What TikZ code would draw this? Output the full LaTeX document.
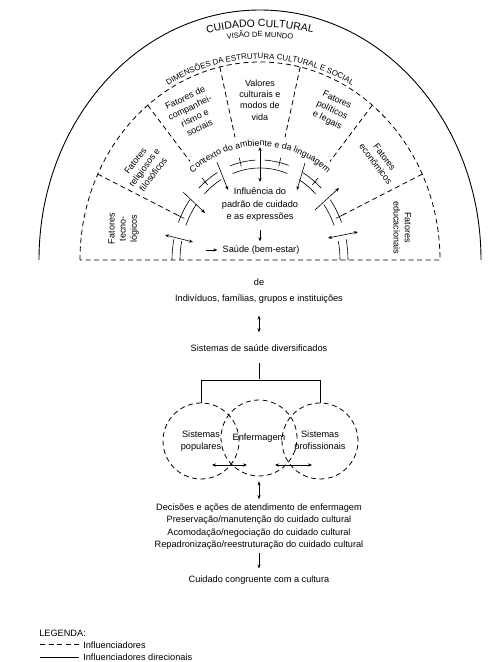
\documentclass[tikz,border=0pt]{standalone}
\usepackage{fontspec}
\setmainfont{Liberation Sans}
\usetikzlibrary{arrows.meta, decorations.text, positioning}
\tikzstyle{sunrise}=[x=1pt, y=1pt, line width=0.6pt, >={Stealth[length=4pt, width=3.2pt]}]
\tikzstyle{influ}=[dash pattern=on 5pt off 3.5pt, line width=0.8pt]
\tikzstyle{rotulo}=[font=\fontsize{9.2}{12.5}\selectfont, align=center, inner sep=1pt]
\tikzstyle{fator}=[font=\fontsize{9}{11.2}\selectfont, align=center, inner sep=0pt]
\tikzstyle{sistema}=[draw, influ, circle, minimum size=76pt, inner sep=0pt, font=\fontsize{9.2}{11.5}\selectfont, align=center]
\tikzstyle{direcional}=[double, double distance=1pt, line width=0.4pt]

% par de arcos (influenciadores direcionais)
\newcommand{\trilho}[2]{%
  \draw (#1:88 and 100) arc[start angle=#1, end angle=#2, x radius=88, y radius=100];
  \draw (#1:80 and 92) arc[start angle=#1, end angle=#2, x radius=80, y radius=92];}

\begin{document}
\begin{tikzpicture}[sunrise]
  \useasboundingbox (0,0) rectangle (488,662);

  \begin{scope}[shift={(260,402)}]
    % sol nascente
    \draw[line width=0.9pt] (-221,0) arc[start angle=180, end angle=0, x radius=221, y radius=250];
    \draw[influ] (-180,0) arc[start angle=180, end angle=0, x radius=180, y radius=198] -- cycle;

    \path[decorate, decoration={text along path, text align=center,
        text={|\fontsize{10.5}{10.5}\selectfont|CUIDADO CULTURAL}}]
      (115:233) arc[start angle=115, end angle=65, radius=233];
    \path[decorate, decoration={text along path, text align=center,
        text={|\fontsize{7.5}{7.5}\selectfont|VISÃO DE MUNDO}}]
      (110:223) arc[start angle=110, end angle=70, radius=223];
    \path[decorate, decoration={text along path, text align=center,
        text={|\fontsize{7.9}{7.9}\selectfont|DIMENSÕES DA ESTRUTURA CULTURAL E SOCIAL}}]
      ([yshift=27pt]130:174) arc[start angle=130, end angle=50, radius=174];
    \path[decorate, decoration={text along path, text align=center,
        text={|\fontsize{8.8}{8.8}\selectfont|Contexto do ambiente e da linguagem}}]
      (140:104 and 114) arc[start angle=140, end angle=40, x radius=104, y radius=114];

    % limites das dimensoes
    \foreach \a in {128.6,102.9,77.1,51.4}
      \draw[influ] (\a:180 and 198) -- (\a:112 and 126);
    \foreach \a in {154.3,25.7}
      \draw[influ] (\a:180 and 198) -- (\a:92 and 104);

    \node[fator, rotate=90]    (tecno) at (167.1:140) {Fatores\\tecno-\\lógicos};
    \node[fator, rotate=53]    (relig) at (141.4:148) {Fatores\\religiosos e\\filosóficos};
    \node[fator, rotate=25.7]  (compa) at (114.7:162) {Fatores de\\companhei-\\rismo e\\sociais};
    \node[fator]               (valor) at (90:160)    {Valores\\culturais e\\modos de\\vida};
    \node[fator, rotate=-25.7] (polit) at (64.3:166)  {Fatores\\políticos\\e legais};
    \node[fator, rotate=-53]   (econo) at (39.6:156)  {Fatores\\econômicos};
    \node[fator, rotate=-90]   (educa) at (12.9:146)  {Fatores\\educacionais};

    % arcos direcionais
    \trilho{180}{168}
    \trilho{158}{143}
    \trilho{134}{119}
    \draw (110:88 and 100) arc[start angle=110, end angle=93, x radius=88, y radius=100];
    \draw (87:88 and 100) arc[start angle=87, end angle=71, x radius=88, y radius=100];
    \draw (110:80 and 92) arc[start angle=110, end angle=70, x radius=80, y radius=92];
    \trilho{61}{46}
    \trilho{37}{22}
    \trilho{12}{0}
    \foreach \a in {154.3,128.6,102.9,77.1,51.4,25.7}
      \draw (\a:84 and 96) -- (\a:93 and 105);

    \draw[<->] (0,113) -- (0,78);
    \draw[->] (-43,98) -- (-32,70);
    \draw[->] (45,97) -- (37,70);
    \draw[->] (-77,68) -- (-55,47);
    \draw[->] (55,50) -- (79,72);
    \draw[<->] (-95,25) -- (-67,18);
    \draw[<->] (68,22) -- (98,28);

    \node[rotulo] (infl) at (0,55) {Influência do\\padrão de cuidado\\e as expressões};
    \node[rotulo] (saude) at (1,10) {Saúde (bem-estar)};
    \draw[->, shorten <=7pt, shorten >=3pt] (infl.south) -- (infl.south |- saude.north);
    \draw[->] ([xshift=-15pt]saude.west) -- ([xshift=-4pt]saude.west);
  \end{scope}

  % sistemas
  \node[rotulo] (de) at (259,380) {de};
  \node[rotulo] (indiv) at (259,363) {Indivíduos, famílias, grupos e instituições};
  \node[rotulo] (saudediv) at (259,314) {Sistemas de saúde diversificados};
  \draw[<->, shorten <=11pt, shorten >=11pt] (indiv.south) -- (saudediv.north);

  \node[sistema] (pop) at (201,221) {Sistemas\\populares};
  \node[sistema] (enf) at (259,224) {Enfermagem};
  \node[sistema] (prof) at (320,221) {Sistemas\\profissionais};
  \coordinate (ramo) at (259,282);
  \draw[shorten <=10pt] (saudediv.south) -- (ramo);
  \draw[direcional] (pop.north |- ramo) -- (prof.north |- ramo);
  \draw (pop.north |- ramo) -- (pop.north);
  \draw (prof.north |- ramo) -- (prof.north);
  \coordinate (popE) at (212,197);
  \coordinate (enfW) at (247,197);
  \coordinate (enfE) at (275,197);
  \coordinate (profW) at (312,197);
  \draw[<->] (popE) -- (enfW);
  \draw[<->] (enfE) -- (profW);

  \node[rotulo] (decis) at (259,135.5) {Decisões e ações de atendimento de enfermagem\\
    Preservação/manutenção do cuidado cultural\\
    Acomodação/negociação do cuidado cultural\\
    Repadronização/reestruturação do cuidado cultural};
  \node[rotulo] (congr) at (259,82) {Cuidado congruente com a cultura};
  \draw[<->, shorten <=5pt, shorten >=3pt] (enf.south) -- (decis.north);
  \draw[->, shorten <=2pt, shorten >=6pt] (decis.south) -- (congr.north);

  % legenda
  \node[rotulo, anchor=west] (leg) at (38,29) {LEGENDA:};
  \node[rotulo, anchor=west] (leg1) at (82,17) {Influenciadores};
  \node[rotulo, anchor=west] (leg2) at (82,5) {Influenciadores direcionais};
  \draw[influ, line width=1pt] ([xshift=-42pt]leg1.west) -- ([xshift=-3pt]leg1.west);
  \draw[direcional] ([xshift=-42pt]leg2.west) -- ([xshift=-3pt]leg2.west);
\end{tikzpicture}
\end{document}
